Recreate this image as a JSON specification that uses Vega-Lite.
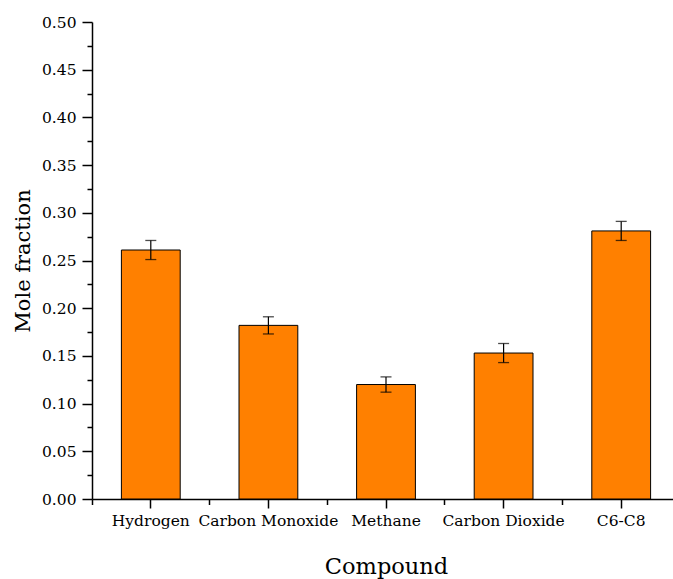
{
  "$schema": "https://vega.github.io/schema/vega-lite/v6.json",
  "width": 581,
  "height": 477,
  "autosize": {"type": "none"},
  "padding": {"left": 92, "top": 22, "right": 0, "bottom": 80},
  "config": {
    "view": {"stroke": null},
    "font": "DejaVu Serif",
    "axis": {
      "grid": false,
      "domainColor": "black",
      "tickColor": "black",
      "labelColor": "black",
      "titleColor": "black",
      "labelFont": "DejaVu Serif",
      "titleFont": "DejaVu Serif",
      "labelFontSize": 15.5,
      "titleFontSize": 21,
      "titleFontWeight": "normal",
      "domainWidth": 1.5,
      "tickWidth": 1.5
    }
  },
  "data": {
    "values": [
      {"compound": "Hydrogen", "value": 0.261, "lo": 0.251, "hi": 0.271},
      {"compound": "Carbon Monoxide", "value": 0.182, "lo": 0.173, "hi": 0.191},
      {"compound": "Methane", "value": 0.120, "lo": 0.112, "hi": 0.128},
      {"compound": "Carbon Dioxide", "value": 0.153, "lo": 0.143, "hi": 0.163},
      {"compound": "C6-C8", "value": 0.281, "lo": 0.271, "hi": 0.291}
    ]
  },
  "layer": [
    {
      "mark": {"type": "bar", "fill": "#FF8000", "stroke": "black", "strokeWidth": 1, "width": {"band": 0.5}},
      "encoding": {
        "x": {
          "field": "compound", "type": "nominal", "sort": null,
          "scale": {"paddingInner": 0, "paddingOuter": 0, "range": [0, 588]},
          "axis": {"title": "Compound", "titleFontSize": 22.5, "labelAngle": 0, "tickSize": 9, "labelPadding": 5, "titlePadding": 27}
        },
        "y": {
          "field": "value", "type": "quantitative",
          "scale": {"domain": [0, 0.5]},
          "axis": {
            "title": "Mole fraction",
            "values": [0, 0.05, 0.1, 0.15, 0.2, 0.25, 0.3, 0.35, 0.4, 0.45, 0.5],
            "format": ".2f", "tickSize": 10, "labelPadding": 6, "titlePadding": 8
          }
        }
      }
    },
    {
      "mark": {"type": "rule", "color": "black", "strokeWidth": 1.2},
      "encoding": {
        "x": {
          "field": "compound", "type": "nominal", "sort": null,
          "axis": {"orient": "bottom", "title": null, "labels": false, "domain": false, "tickSize": 5.5, "bandPosition": 0}
        },
        "y": {
          "field": "lo", "type": "quantitative",
          "axis": {
            "orient": "left", "title": null, "labels": false, "domain": false, "tickSize": 5,
            "values": [0.025, 0.075, 0.125, 0.175, 0.225, 0.275, 0.325, 0.375, 0.425, 0.475]
          }
        },
        "y2": {"field": "hi"}
      }
    },
    {
      "mark": {"type": "tick", "color": "black", "size": 11, "thickness": 1.3},
      "encoding": {
        "x": {"field": "compound", "type": "nominal", "sort": null, "axis": null},
        "y": {"field": "lo", "type": "quantitative", "axis": null}
      }
    },
    {
      "mark": {"type": "tick", "color": "black", "size": 11, "thickness": 1.3},
      "encoding": {
        "x": {"field": "compound", "type": "nominal", "sort": null, "axis": null},
        "y": {"field": "hi", "type": "quantitative", "axis": null}
      }
    }
  ],
  "resolve": {"axis": {"x": "independent", "y": "independent"}}
}
